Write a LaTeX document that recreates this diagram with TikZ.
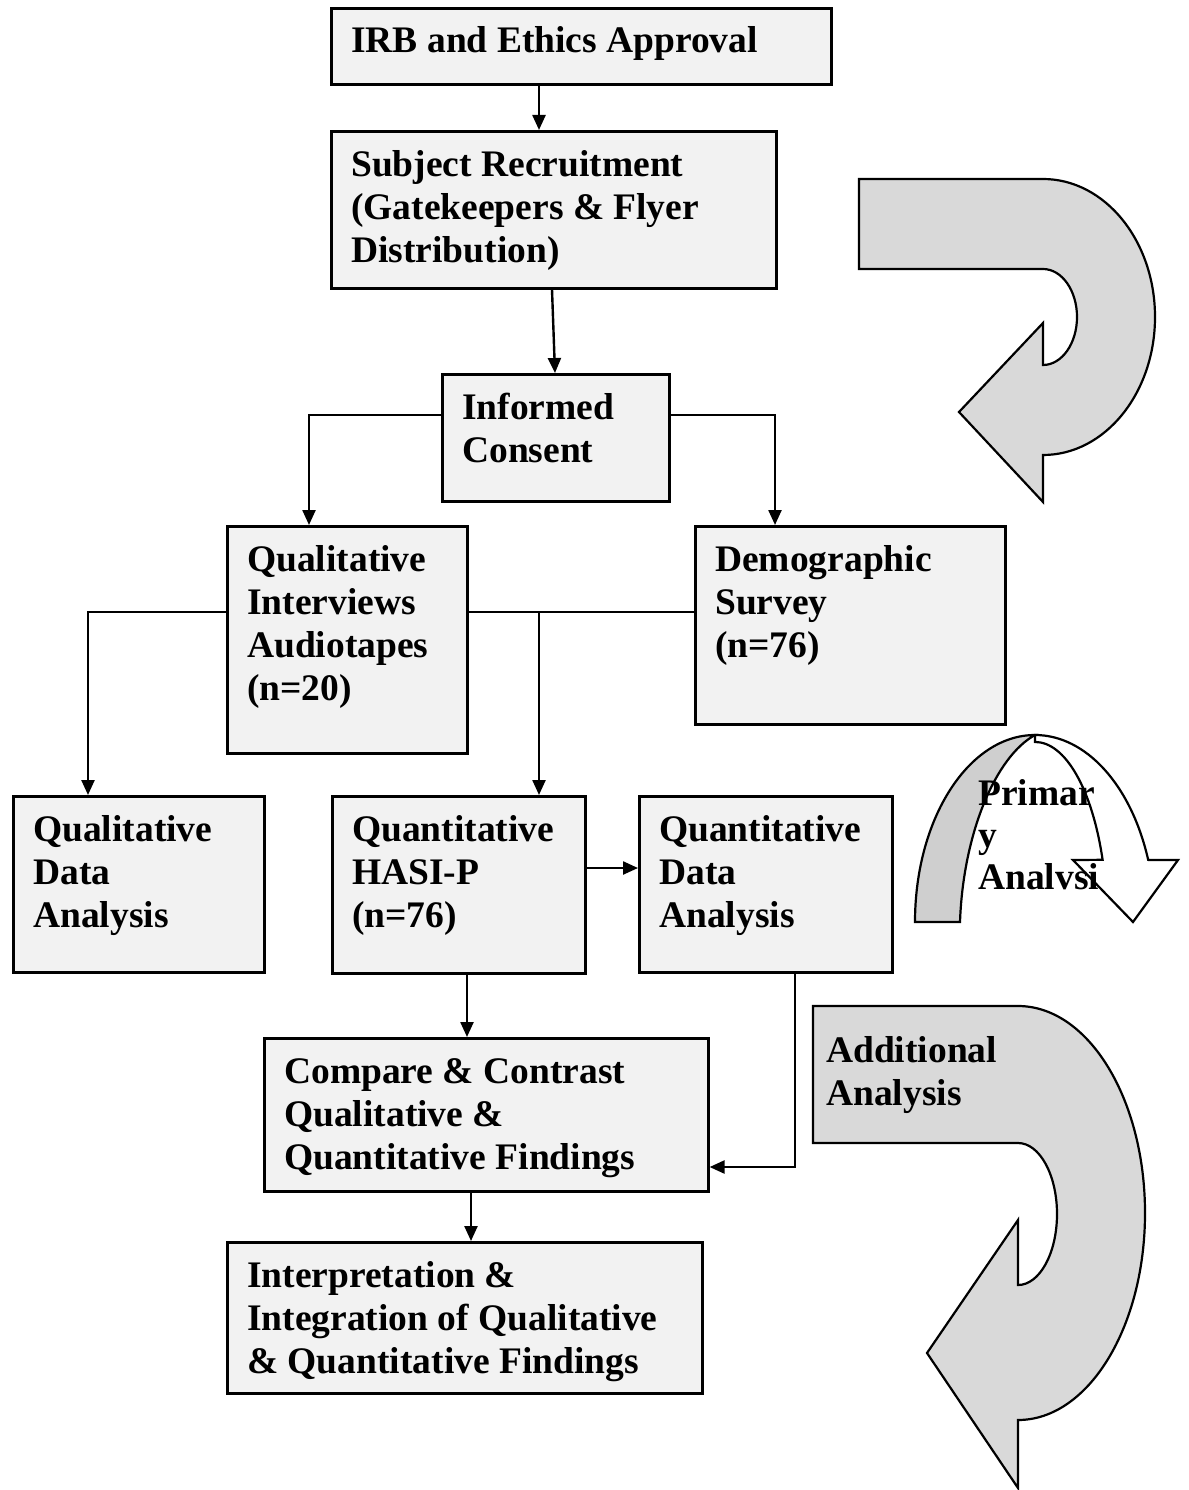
\documentclass[tikz,border=0pt]{standalone}
\usepackage{fontspec}
\setmainfont{Liberation Serif}
\usetikzlibrary{arrows.meta}
\definecolor{boxfill}{HTML}{F2F2F2}
\definecolor{bigfill}{HTML}{D9D9D9}
\definecolor{backfill}{HTML}{CFCFCF}
\begin{document}
\begin{tikzpicture}[x=1pt,y=-1pt,
  box/.style={draw,line width=2.6pt,fill=boxfill,anchor=north west,inner sep=0pt},
  txt/.style={anchor=base west,align=left,inner sep=0pt,font=\fontsize{37.5}{43}\selectfont\bfseries},
  conn/.style={line width=2.4pt,-{Triangle[length=15pt,width=13pt]}},
  plain/.style={line width=2.4pt},
  bigarrow/.style={draw,line width=2.2pt,fill=bigfill,line join=miter}]
\useasboundingbox (0,0) rectangle (1188,1490);

% boxes
\node[box,minimum width=500pt,minimum height=76pt] (irb) at (330,7) {};
\node[box,minimum width=445pt,minimum height=157pt] (subj) at (330,130) {};
\node[box,minimum width=227pt,minimum height=127pt] (cons) at (441,373) {};
\node[box,minimum width=240pt,minimum height=227pt] (qual) at (226,525) {};
\node[box,minimum width=310pt,minimum height=198pt] (demo) at (694,525) {};
\node[box,minimum width=251pt,minimum height=176pt] (qda) at (12,795) {};
\node[box,minimum width=253pt,minimum height=177pt] (hasi) at (331,795) {};
\node[box,minimum width=253pt,minimum height=176pt] (qnda) at (638,795) {};
\node[box,minimum width=444pt,minimum height=153pt] (cmp) at (263,1037) {};
\node[box,minimum width=475pt,minimum height=151pt] (interp) at (226,1241) {};

% texts (anchor = baseline of the last line)
\node[txt] (irbT) at ([xshift=21pt,yshift=-46pt]irb.north west) {IRB and Ethics Approval};
\node[txt] (subjT) at ([xshift=21pt,yshift=-132pt]subj.north west) {Subject Recruitment\\(Gatekeepers \& Flyer\\Distribution)};
\node[txt] (consT) at ([xshift=21pt,yshift=-89pt]cons.north west) {Informed\\Consent};
\node[txt] (qualT) at ([xshift=21pt,yshift=-175pt]qual.north west) {Qualitative\\Interviews\\Audiotapes\\(n=20)};
\node[txt] (demoT) at ([xshift=21pt,yshift=-132pt]demo.north west) {Demographic\\Survey\\(n=76)};
\node[txt] (qdaT) at ([xshift=21pt,yshift=-132pt]qda.north west) {Qualitative\\Data\\Analysis};
\node[txt] (hasiT) at ([xshift=21pt,yshift=-132pt]hasi.north west) {Quantitative\\HASI-P\\(n=76)};
\node[txt] (qndaT) at ([xshift=21pt,yshift=-132pt]qnda.north west) {Quantitative\\Data\\Analysis};
\node[txt] (cmpT) at ([xshift=21pt,yshift=-132pt]cmp.north west) {Compare \& Contrast\\Qualitative \&\\Quantitative Findings};
\node[txt] (interpT) at ([xshift=21pt,yshift=-132pt]interp.north west) {Interpretation \&\\Integration of Qualitative\\\& Quantitative Findings};

% helper coordinates
\coordinate (xa) at (539,0);
\coordinate (xb1) at (552,0);
\coordinate (xb2) at (555,0);
\coordinate (yc) at (0,415);
\coordinate (xq) at (309,0);
\coordinate (xd) at (775,0);
\coordinate (yq) at (0,612);
\coordinate (xe) at (88,0);
\coordinate (split) at (539,612);
\coordinate (yg) at (0,868);
\coordinate (xh) at (467,0);
\coordinate (xi) at (795,0);
\coordinate (yi) at (0,1167);
\coordinate (xj) at (471,0);

% connectors
\draw[conn] (irb.south -| xa) -- (subj.north -| xa);
\draw[conn] (subj.south -| xb1) -- (cons.north -| xb2);
\draw[conn] (cons.west |- yc) -| (qual.north -| xq);
\draw[conn] (cons.east |- yc) -| (demo.north -| xd);
\draw[conn] (qual.west |- yq) -| (qda.north -| xe);
\draw[plain] (qual.east |- yq) -- (demo.west |- yq);
\draw[conn] (split) -- (hasi.north -| split);
\draw[conn] (hasi.east |- yg) -- (qnda.west |- yg);
\draw[conn] (hasi.south -| xh) -- (cmp.north -| xh);
\draw[conn] (qnda.south -| xi) |- (cmp.east |- yi);
\draw[conn] (cmp.south -| xj) -- (interp.north -| xj);

% big curved arrow (top)
\draw[bigarrow] (859,179) -- (1043,179)
  arc[start angle=-90,end angle=90,x radius=112,y radius=138]
  -- (1043,502) -- (959,412) -- (1043,323) -- (1043,365)
  arc[start angle=90,end angle=-90,x radius=34,y radius=48]
  -- (859,269) -- cycle;

% big curved arrow (bottom)
\draw[bigarrow] (813,1006) -- (1018,1006)
  arc[start angle=-90,end angle=90,x radius=127,y radius=207]
  -- (1018,1488) -- (927,1353) -- (1018,1220) -- (1018,1285)
  arc[start angle=90,end angle=-90,x radius=39,y radius=71]
  -- (813,1143) -- cycle;
\node[txt] (addT) at (826,1105) {Additional\\Analysis};

% primary analysis arrow
\draw[line width=2.2pt,fill=backfill] (915,922)
  arc[start angle=180,end angle=270,x radius=120,y radius=187]
  .. controls (995,757) and (963,835) .. (960,922) -- cycle;
\draw[line width=2.2pt,fill=white,line join=miter] (1035,735)
  arc[start angle=270,end angle=340.6,x radius=120,y radius=187]
  -- (1178,860) -- (1133,922) -- (1073,860) -- (1102.6,859.8)
  arc[start angle=339.8,end angle=270,x radius=72,y radius=180]
  -- cycle;
\node[txt,font=\fontsize{37.5}{42}\selectfont\bfseries] (primT) at (978,889) {Primar\\y\\Analvsi};
\end{tikzpicture}
\end{document}
